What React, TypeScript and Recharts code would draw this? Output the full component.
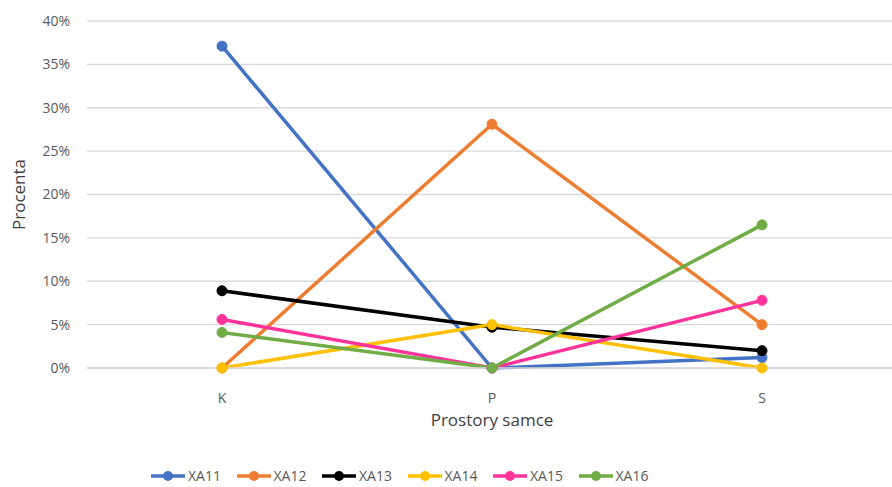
import { LineChart, Line, XAxis, YAxis, CartesianGrid } from "recharts";

const categories = ["K", "P", "S"];

const seriesNames = ["XA11", "XA12", "XA13", "XA14", "XA15", "XA16"];
const seriesColors = ["#4472C4", "#ED7D31", "#000000", "#FFC000", "#FF3399", "#70AD47"];

// values in %, per category K, P, S
const XA11 = [37.1, 0, 1.2];
const XA12 = [0, 28.1, 5.0];
const XA13 = [8.9, 4.7, 2.0];
const XA14 = [0, 5.0, 0];
const XA15 = [5.6, 0, 7.8];
const XA16 = [4.1, 0, 16.5];

const yTicks = [0, 5, 10, 15, 20, 25, 30, 35, 40];

const seriesValues = [XA11, XA12, XA13, XA14, XA15, XA16];

const data = categories.map((c, i) => {
  const row: Record<string, string | number> = { cat: c };
  seriesNames.forEach((n, j) => {
    row[n] = seriesValues[j][i];
  });
  return row;
});

const FONT = "'Open Sans', sans-serif";
const TEXT = "#595959";

function LegendRow() {
  return (
    <div
      style={{
        position: "absolute",
        top: 466,
        left: 150,
        display: "flex",
        fontFamily: FONT,
        fontSize: 14,
        color: TEXT,
      }}
    >
      {seriesNames.map((n, i) => (
        <div key={n} style={{ display: "flex", alignItems: "center", width: 85.5 }}>
          <svg width={36} height={14}>
            <line x1={1} y1={7} x2={35} y2={7} stroke={seriesColors[i]} strokeWidth={3.5} />
            <circle cx={18} cy={7} r={5} fill={seriesColors[i]} />
          </svg>
          <span style={{ marginLeft: 2 }}>{n}</span>
        </div>
      ))}
    </div>
  );
}

export default function App() {
  return (
    <div
      style={{
        position: "absolute",
        left: 0,
        top: 0,
        width: 892,
        height: 487,
        overflow: "hidden",
        background: "#fff",
      }}
    >
      <LineChart
        width={900}
        height={487}
        data={data}
        margin={{ top: 21, right: 3, left: 0, bottom: 0 }}
      >
        <CartesianGrid vertical={false} stroke="#d9d9d9" strokeWidth={1.3} />
        <XAxis
          dataKey="cat"
          scale="band"
          axisLine={{ stroke: "#d9d9d9", strokeWidth: 1.3 }}
          tickLine={false}
          tickMargin={19}
          height={119}
          tick={{ fill: TEXT, fontSize: 14, fontFamily: FONT }}
          label={{
            value: "Prostory samce",
            position: "insideTop",
            offset: 46,
            fill: "#404040",
            fontSize: 17,
            fontFamily: FONT,
          }}
        />
        <YAxis
          type="number"
          domain={[0, 40]}
          ticks={yTicks}
          width={87}
          axisLine={false}
          tickLine={false}
          tickSize={0}
          tickMargin={17}
          tickFormatter={(v: number) => `${v}%`}
          tick={{ fill: TEXT, fontSize: 14, fontFamily: FONT }}
          label={{
            value: "Procenta",
            angle: -90,
            position: "insideLeft",
            offset: 19,
            fill: "#404040",
            fontSize: 17,
            fontFamily: FONT,
            style: { textAnchor: "middle" },
          }}
        />
        {seriesNames.map((n, i) => (
          <Line
            key={n}
            dataKey={n}
            stroke={seriesColors[i]}
            strokeWidth={3.5}
            dot={{ r: 5, fill: seriesColors[i], stroke: seriesColors[i], strokeWidth: 1 }}
            isAnimationActive={false}
          />
        ))}
      </LineChart>
      <LegendRow />
    </div>
  );
}
